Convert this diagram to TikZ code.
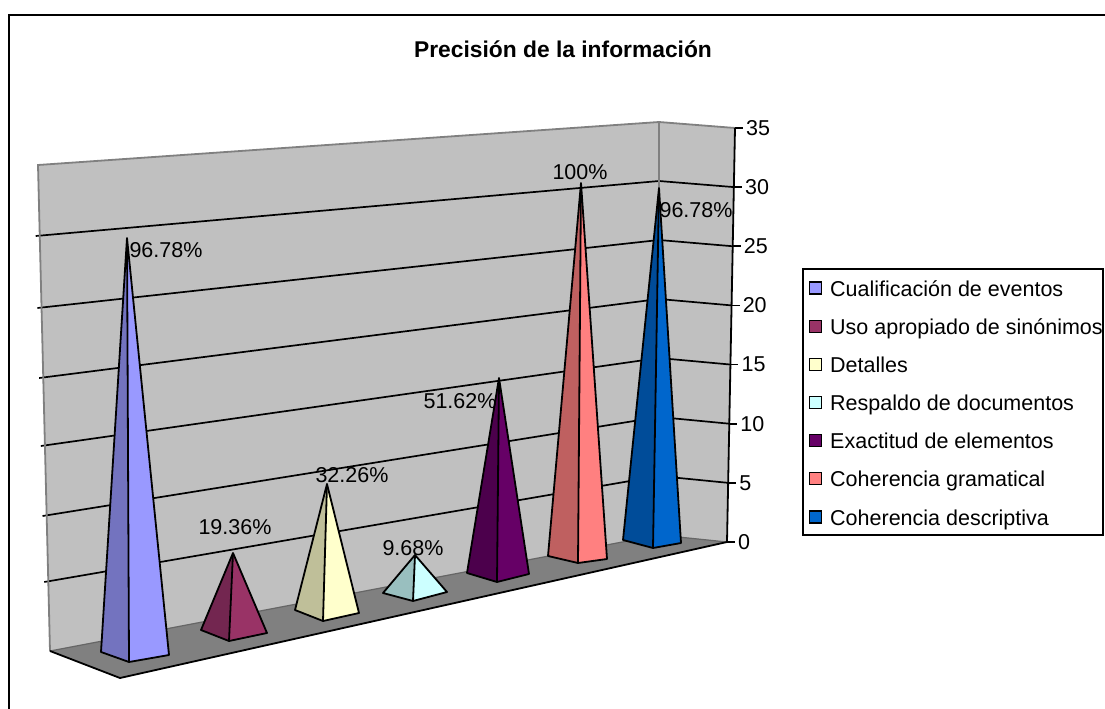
\documentclass[tikz,border=0pt]{standalone}
\usepackage{fontspec}
\setmainfont{Liberation Sans}
\definecolor{wallgray}{HTML}{C0C0C0}
\definecolor{floorgray}{HTML}{808080}
\definecolor{edgegray}{HTML}{808080}
\definecolor{pAr}{HTML}{9999FF}\definecolor{pAl}{HTML}{7373BF}
\definecolor{pBr}{HTML}{993366}\definecolor{pBl}{HTML}{732650}
\definecolor{pCr}{HTML}{FFFFCC}\definecolor{pCl}{HTML}{BFBF99}
\definecolor{pDr}{HTML}{CCFFFF}\definecolor{pDl}{HTML}{99BFBF}
\definecolor{pEr}{HTML}{660066}\definecolor{pEl}{HTML}{4C004C}
\definecolor{pFr}{HTML}{FF8080}\definecolor{pFl}{HTML}{BF6060}
\definecolor{pGr}{HTML}{0066CC}\definecolor{pGl}{HTML}{004C99}
\newcommand{\drawpyr}[6]{%
  \fill[#5] #1 -- #2 -- #3 -- cycle;
  \fill[#6] #1 -- #3 -- #4 -- cycle;
  \draw[pyredge] #2 -- #1 -- #4 -- #3 -- cycle;
  \draw[pyredge] #1 -- #3;
}
\begin{document}
\begin{tikzpicture}[x=1pt,y=-1pt,
  lbl/.style={font=\fontsize{21.5}{24}\selectfont, inner sep=0pt},
  titlestyle/.style={font=\bfseries\fontsize{22.8}{26}\selectfont, inner sep=0pt},
  pyredge/.style={draw=black, line width=1.8pt, line join=round},
  gridline/.style={black, line width=1.7pt},
  legbox/.style={draw=black, line width=1.5pt, fill=white},
  legsq/.style={draw=black, line width=1.2pt}]
\useasboundingbox (0,0) rectangle (1105,709);
\fill[white] (0,0) rectangle (1105,709);
\coordinate (fb) at (9,709);
\coordinate (fc) at (9,15);
\coordinate (fr) at (1105,15);
\draw[line width=2.6pt] (fb) -- (fc) -- (fr);
\node[titlestyle, anchor=base] (title) at (563,58) {Precisión de la información};

% walls
\coordinate (wtl) at (38,165);
\coordinate (wtc) at (659,122);
\coordinate (wbc) at (659,535);
\coordinate (wbl) at (50,651);
\coordinate (atop) at (735,128);
\coordinate (abot) at (727,542);
\coordinate (ffl) at (120,678);
\fill[wallgray] (wtl) -- (wtc) -- (wbc) -- (wbl) -- cycle;
\fill[wallgray] (wtc) -- (atop) -- (abot) -- (wbc) -- cycle;
% gridlines
\foreach \v/\yl in {5/582,10/516,15/446,20/378,25/308,30/236}{
  \pgfmathsetmacro{\xl}{50-12*\v/35}
  \pgfmathsetmacro{\yc}{535-11.8*\v}
  \pgfmathsetmacro{\xa}{727+8*\v/35}
  \pgfmathsetmacro{\ya}{542-11.83*\v}
  \coordinate (gl\v) at (\xl-4,\yl);
  \coordinate (gc\v) at (659,\yc);
  \coordinate (ga\v) at (\xa,\ya);
  \draw[gridline] (gl\v) -- (gc\v) -- (ga\v);
}
\draw[edgegray, line width=1.8pt] (wbl) -- (wtl) -- (wtc) -- (atop);
\draw[edgegray, line width=1.5pt] (wtc) -- (wbc);
% floor
\fill[floorgray] (wbl) -- (wbc) -- (abot) -- (ffl) -- cycle;
\draw[black!60, line width=1.2pt] (wbl) -- (wbc) -- (abot);
\draw[black, line width=1.8pt] (wbl) -- (ffl) -- (abot);
% axis
\draw[line width=1.8pt] (atop) -- (abot);
\foreach \v in {0,5,...,35}{
  \pgfmathsetmacro{\xa}{727+8*\v/35}
  \pgfmathsetmacro{\ya}{542-11.83*\v}
  \coordinate (t\v) at (\xa,\ya);
  \draw[line width=1.8pt] (t\v) -- ++(8,0);
  \node[lbl, anchor=west] (ax\v) at ([xshift=11pt]t\v) {\v};
}

% pyramids
\drawpyr{(127,238)}{(101,652)}{(129,662)}{(169,655)}{pAl}{pAr}
\drawpyr{(233,553)}{(201,630)}{(229,641)}{(267,633)}{pBl}{pBr}
\drawpyr{(327,484)}{(295,610)}{(323,621)}{(359,613)}{pCl}{pCr}
\drawpyr{(415,555)}{(383,593)}{(413,601)}{(447,592)}{pDl}{pDr}
\drawpyr{(499,378)}{(467,573)}{(497,582)}{(529,574)}{pEl}{pEr}
\drawpyr{(581,183)}{(548,556)}{(578,563)}{(607,559)}{pFl}{pFr}
\drawpyr{(659,188)}{(623,540)}{(653,548)}{(681,543)}{pGl}{pGr}

% data labels
\node[lbl] (d1) at (166,250) {96.78\%};
\node[lbl] (d2) at (235,527) {19.36\%};
\node[lbl] (d3) at (352,475) {32.26\%};
\node[lbl] (d4) at (413,548) {9.68\%};
\node[lbl] (d5) at (460,401) {51.62\%};
\node[lbl] (d6) at (580,172) {100\%};
\node[lbl] (d7) at (696,210) {96.78\%};

% legend
\node[legbox, minimum width=300pt, minimum height=266pt, anchor=north west, inner sep=0pt] (legend) at (802,268) {};
\foreach \i/\c/\t in {0/pAr/Cualificación de eventos,1/pBr/Uso apropiado de sinónimos,2/pCr/Detalles,3/pDr/Respaldo de documentos,4/pEr/Exactitud de elementos,5/pFr/Coherencia gramatical,6/pGr/Coherencia descriptiva}{
  \pgfmathsetmacro{\yy}{288+38.17*\i}
  \node[legsq, fill=\c, minimum size=12pt, inner sep=0pt] (sq\i) at (815.5,\yy) {};
  \node[lbl, anchor=base west] (lt\i) at (830,\yy+8) {\t};
}
\end{tikzpicture}
\end{document}
